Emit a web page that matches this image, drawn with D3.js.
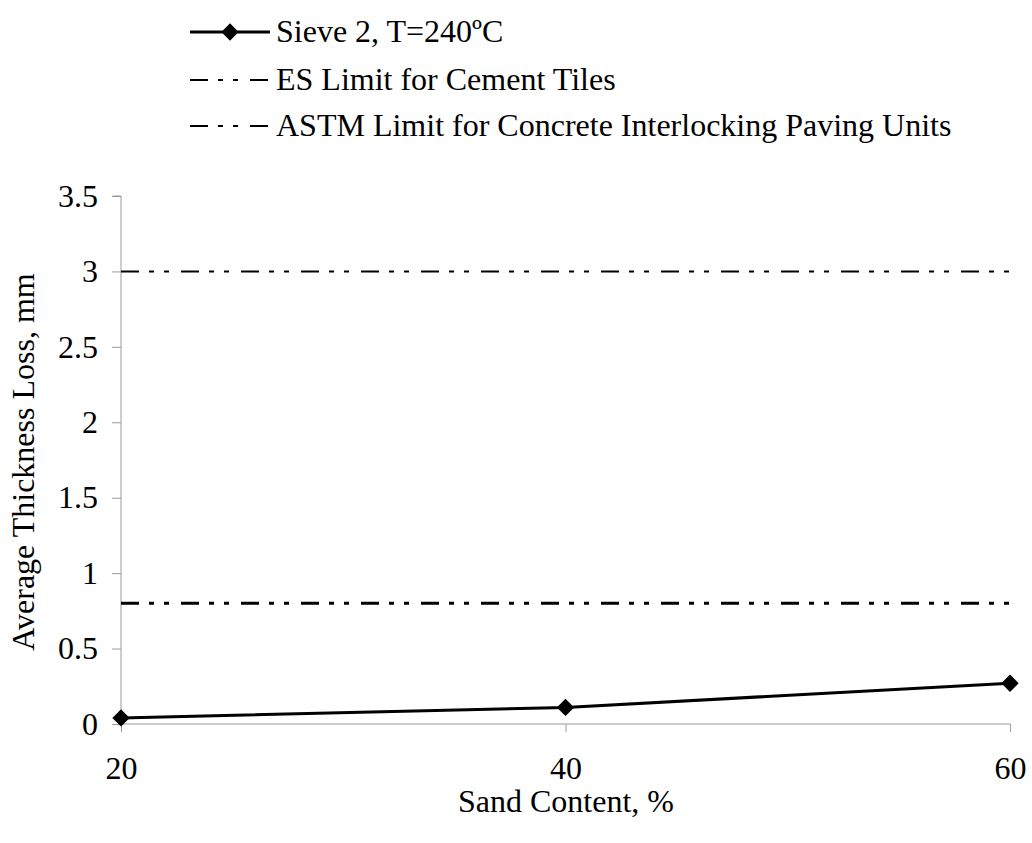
<!DOCTYPE html>
<html><head><meta charset="utf-8"><script src="https://cdn.jsdelivr.net/npm/d3@7"></script>
<style>
  #fig text { font-family: "Liberation Serif", Tinos, "Times New Roman", Times, serif !important; }
</style>
</head>
<body style="margin:0">
<svg id="fig" width="1032" height="843"></svg>
<script>
// ---- data ----
const sandContent = [20, 40, 60];
const thicknessLoss = [0.04, 0.11, 0.27];
const esLimit = 3.0;
const astmLimit = 0.8;
const yTicks = [0, 0.5, 1, 1.5, 2, 2.5, 3, 3.5];
const xTicks = [20, 40, 60];
const legendLabels = ["Sieve 2, T=240ºC", "ES Limit for Cement Tiles", "ASTM Limit for Concrete Interlocking Paving Units"];
const xTitle = "Sand Content, %";
const yTitle = "Average Thickness Loss, mm";

// ---- layout ----
const svg = d3.select("#fig");
const x = d3.scaleLinear().domain([20, 60]).range([121, 1010]);
const y = d3.scaleLinear().domain([0, 3.5]).range([724, 196]);
const dash = "18,10,5,10,5,12";
const axisColor = "#9a9a9a";

function styleText(sel) {
  sel.attr("font-family", "Liberation Serif")
    .style("font-family", '"Liberation Serif"', "important")
    .style("font-size", "32px").attr("fill", "#000");
}

// y axis
const yAxis = svg.append("g").attr("transform", `translate(${x(20)},0)`)
  .call(d3.axisLeft(y).tickValues(yTicks).tickSize(9).tickPadding(14)
    .tickFormat(d => d3.format("")(d)));
yAxis.attr("font-family", "Liberation Serif").attr("font-size", null);
yAxis.select(".domain").attr("stroke", axisColor).attr("stroke-width", 1).attr("d", `M0,${y(3.5)}H-8M0,${y(3.5)}V${y(0)}`);
yAxis.selectAll(".tick line").attr("stroke", axisColor);
yAxis.selectAll(".tick text").call(styleText);

// x axis
const xAxis = svg.append("g").attr("transform", `translate(0,${y(0)})`)
  .call(d3.axisBottom(x).tickValues(xTicks).tickSize(8).tickPadding(24));
xAxis.attr("font-family", "Liberation Serif").attr("font-size", null);
xAxis.select(".domain").attr("stroke", axisColor).attr("stroke-width", 1).attr("d", `M${x(20)},0H${x(60)}`);
xAxis.selectAll(".tick line").attr("stroke", axisColor);
xAxis.selectAll(".tick text").call(styleText);

// limit lines
svg.append("line").attr("x1", x(20)).attr("x2", x(60))
  .attr("y1", y(esLimit)).attr("y2", y(esLimit))
  .attr("stroke", "#000").attr("stroke-width", 2).attr("stroke-dasharray", dash);
svg.append("line").attr("x1", x(20)).attr("x2", x(60))
  .attr("y1", y(astmLimit)).attr("y2", y(astmLimit))
  .attr("stroke", "#000").attr("stroke-width", 3).attr("stroke-dasharray", dash);

// series
const pts = sandContent.map((s, i) => [s, thicknessLoss[i]]);
svg.append("path").datum(pts)
  .attr("fill", "none").attr("stroke", "#000").attr("stroke-width", 3)
  .attr("d", d3.line().x(d => x(d[0])).y(d => y(d[1])));
const diamond = d3.symbol().type(d3.symbolSquare).size(150);
svg.selectAll(".pt").data(pts).enter().append("path")
  .attr("d", diamond())
  .attr("transform", d => `translate(${x(d[0])},${y(d[1])}) rotate(45)`)
  .attr("fill", "#000");

// titles
svg.append("text").attr("x", 566).attr("y", 812).attr("text-anchor", "middle")
  .call(styleText).text(xTitle);
svg.append("text").attr("transform", `translate(34,462) rotate(-90)`).attr("text-anchor", "middle")
  .call(styleText).text(yTitle);

// legend
const legY = [32, 80, 126];
const leg = svg.append("g");
leg.append("line").attr("x1", 190).attr("x2", 270).attr("y1", legY[0]).attr("y2", legY[0])
  .attr("stroke", "#000").attr("stroke-width", 3);
leg.append("path").attr("d", diamond()).attr("transform", `translate(230,${legY[0]}) rotate(45)`).attr("fill", "#000");
leg.append("line").attr("x1", 190).attr("x2", 270).attr("y1", legY[1]).attr("y2", legY[1])
  .attr("stroke", "#000").attr("stroke-width", 2).attr("stroke-dasharray", dash);
leg.append("line").attr("x1", 190).attr("x2", 270).attr("y1", legY[2]).attr("y2", legY[2])
  .attr("stroke", "#000").attr("stroke-width", 2).attr("stroke-dasharray", dash);
legendLabels.forEach((t, i) => {
  leg.append("text").attr("x", 276).attr("y", legY[i] + 10).call(styleText).text(t);
});
</script>
</body>
</html>
